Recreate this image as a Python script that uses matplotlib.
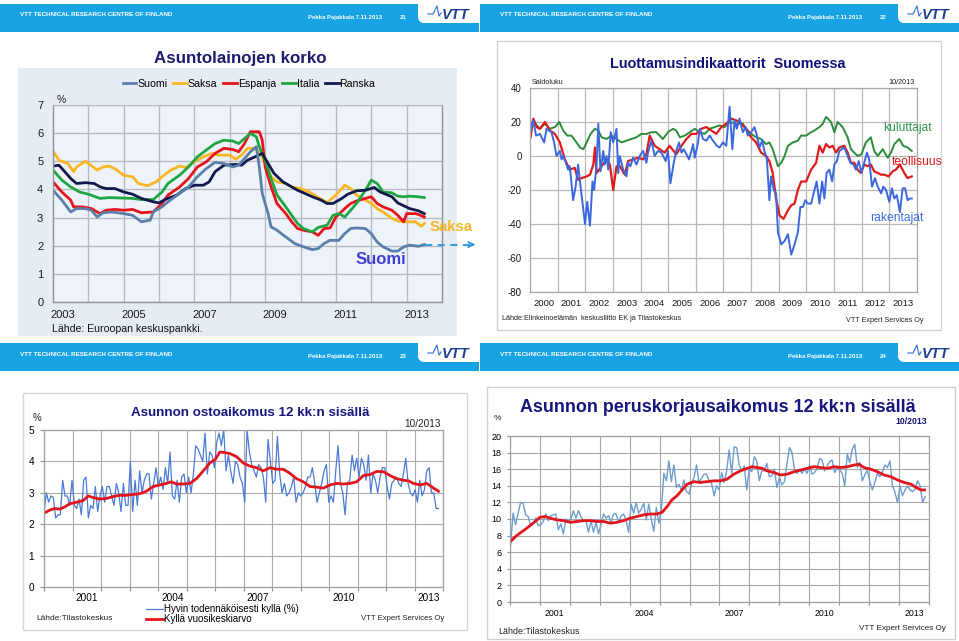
import numpy as np
import matplotlib
matplotlib.use('Agg')
import matplotlib.pyplot as plt
from matplotlib.patches import Rectangle, Polygon
from matplotlib.lines import Line2D

plt.rcParams['font.family'] = ['Liberation Sans', 'DejaVu Sans']
plt.rcParams['axes.unicode_minus'] = False

# ---------------- Panel 1: Asuntolainojen korko (months since Jan 2003) ----------------
p1_series = ['Suomi', 'Saksa', 'Espanja', 'Italia', 'Ranska']
fi_m = [0,3,6,8,11,13,15,17,20,24,27,30,33,34,37,39,43,46,49,52,55,58,61,63,65,67,69,70,71,73,
        74,76,79,82,85,88,90,92,94,97,99,101,103,106,108,110,112,115,117,119,121,124,126]
fi_v = [3.97,3.62,3.2,3.32,3.32,3.26,3.02,3.17,3.2,3.14,3.08,2.85,2.91,3.2,3.38,3.56,3.86,4.09,4.45,4.74,
        4.96,4.92,4.8,4.86,5.1,5.34,5.52,4.8,3.86,3.14,2.67,2.55,2.31,2.08,1.96,1.86,1.9,2.08,2.19,2.19,
        2.43,2.61,2.63,2.61,2.43,2.13,1.96,1.81,1.81,1.96,2.02,1.98,2.04]
de_m = [0,2,5,7,8,11,15,17,19,21,24,27,29,32,35,37,40,43,45,48,51,54,56,60,62,64,66,68,70,72,
        74,76,79,81,84,87,90,93,96,99,101,103,106,108,110,112,115,117,119,121,123,125,126]
de_v = [5.36,5.04,4.92,4.63,4.8,5.0,4.69,4.8,4.83,4.74,4.5,4.45,4.21,4.13,4.27,4.45,4.69,4.83,4.78,4.98,
        5.16,5.28,5.22,5.22,5.07,5.22,5.46,5.46,5.34,4.92,4.45,4.27,4.21,4.09,4.03,3.91,3.71,3.53,3.8,4.15,
        4.03,3.8,3.62,3.5,3.32,3.2,2.97,2.88,2.85,2.85,2.85,2.69,2.79]
es_m = [0,3,6,7,10,13,16,18,21,24,27,30,34,37,39,43,46,49,52,55,58,61,63,65,67,70,71,72,74,76,
        79,81,83,85,88,90,92,94,96,99,101,103,106,108,110,112,115,117,119,120,123,124,126]
es_v = [4.27,3.91,3.62,3.38,3.38,3.32,3.14,3.26,3.29,3.26,3.29,3.17,3.2,3.5,3.8,4.09,4.39,4.8,4.98,5.28,
        5.46,5.42,5.34,5.63,6.05,6.05,5.75,4.8,4.09,3.5,3.14,2.85,2.61,2.55,2.49,2.37,2.61,2.63,3.02,3.32,
        3.5,3.59,3.68,3.74,3.5,3.38,3.26,3.08,2.85,3.14,3.14,3.11,3.02]
it_m = [0,3,6,9,12,16,19,22,27,30,34,37,39,43,46,49,52,55,58,61,63,65,67,69,70,72,74,76,79,81,
        83,85,88,90,93,95,97,99,101,103,106,108,110,112,115,117,119,121,124,126]
it_v = [4.69,4.33,4.09,3.91,3.83,3.68,3.71,3.7,3.68,3.64,3.64,3.91,4.21,4.51,4.8,5.16,5.4,5.63,5.75,5.72,
        5.63,5.81,5.99,5.87,5.52,5.04,4.39,3.8,3.38,3.08,2.79,2.61,2.49,2.65,2.73,3.08,3.14,3.02,3.26,3.5,
        3.97,4.33,4.21,3.91,3.88,3.76,3.74,3.76,3.74,3.71]
fr_m = [0,2,4,6,8,11,14,16,18,21,24,27,30,34,36,38,42,45,48,51,53,55,58,62,64,66,69,71,73,75,
        78,80,83,85,88,91,93,95,98,100,103,106,109,111,115,117,119,121,124,126]
fr_v = [4.83,4.86,4.63,4.39,4.21,4.24,4.21,4.09,4.03,4.03,3.91,3.83,3.68,3.56,3.52,3.64,3.8,4.03,4.15,4.15,
        4.27,4.63,4.86,4.89,4.86,5.04,5.18,5.28,4.92,4.57,4.27,4.15,3.97,3.88,3.74,3.62,3.5,3.5,3.68,3.83,
        3.95,3.97,4.07,3.91,3.74,3.52,3.42,3.32,3.24,3.14]
p1_years = [2003, 2005, 2007, 2009, 2011, 2013]

# ---------------- Panel 2: Luottamusindikaattorit Suomessa ----------------
kul_x = [2000.02,2000.12,2000.24,2000.36,2000.54,2000.72,2000.90,2001.06,2001.20,2001.35,
         2001.50,2001.68,2001.81,2001.93,2002.05,2002.19,2002.35,2002.47,2002.59,2002.77,
         2002.95,2003.13,2003.31,2003.49,2003.67,2003.85,2004.03,2004.21,2004.39,2004.57,
         2004.69,2004.81,2004.99,2005.17,2005.29,2005.42,2005.60,2005.78,2005.96,2006.14,
         2006.32,2006.50,2006.68,2006.86,2007.04,2007.22,2007.46,2007.70,2007.82,2008.00,
         2008.18,2008.36,2008.54,2008.66,2008.78,2008.97,2009.09,2009.21,2009.33,2009.51,
         2009.69,2009.81,2009.99,2010.17,2010.29,2010.47,2010.59,2010.71,2010.89,2011.01,
         2011.13,2011.31,2011.49,2011.61,2011.73,2011.85,2011.99,2012.15,2012.33,2012.45,
         2012.58,2012.76,2012.94,2013.06,2013.18,2013.36,2013.50,2013.66,2013.81]
kul_v = [18,21,18,16,19,16,17,20,15,12, 12,8,5,4,8,13,16,15,11,10, 12,10,8,9,10,11,13,13,14,14,
         12,10,14,16,15,11,12,14,16,14, 13,16,17,18,17,20,19,19,16,13, 11,10,7,8,4,-6,-4,0,6,8,
         9,12,12,14,15,17,19,23,20,14, 20,17,11,4,2,0,1,8,11,3, 0,4,-1,2,7,10,6,5,3]
teo_x = [2000.02,2000.12,2000.24,2000.36,2000.54,2000.72,2000.90,2001.08,2001.26,2001.44,
         2001.62,2001.74,2001.87,2002.05,2002.17,2002.29,2002.35,2002.41,2002.59,2002.77,
         2002.89,2003.01,2003.13,2003.25,2003.43,2003.55,2003.73,2003.91,2004.09,2004.21,
         2004.33,2004.51,2004.69,2004.87,2005.05,2005.29,2005.48,2005.66,2005.84,2006.02,
         2006.20,2006.38,2006.56,2006.74,2006.92,2007.10,2007.28,2007.46,2007.64,2007.82,
         2008.00,2008.18,2008.36,2008.54,2008.66,2008.78,2008.90,2009.03,2009.17,2009.33,
         2009.45,2009.57,2009.69,2009.81,2009.99,2010.17,2010.35,2010.47,2010.59,2010.71,
         2010.83,2010.95,2011.07,2011.19,2011.37,2011.49,2011.61,2011.73,2011.85,2011.97,
         2012.09,2012.21,2012.33,2012.45,2012.58,2012.70,2012.82,2012.97,2013.12,2013.24,
         2013.38,2013.54,2013.66,2013.81]
teo_v = [11,22,17,16,20,15,13,8,-2,-8, -7,-14,-13,-12,-11,-5,5,-10,-6,-2, -5,-20,-6,-6,-11,-3,-2,-1,-2,1,
         12,6,4,2,6,1,6,10,13,13, 16,17,15,13,17,19,22,21,19,16, 11,8,2,0,-3,-10,-25,-35,-37,-32,
         -29,-28,-20,-15,-15,-8,-4,6,2,7, 5,6,2,5,6,2,-4,-4,-8,-10, -5,-6,-5,-9,-10,-11,-11,-12,-9,-8,
         -5,-10,-13,-12]
rak_x = [2000.02,2000.12,2000.22,2000.36,2000.51,2000.60,2000.78,2000.87,2000.96,2001.08,
         2001.14,2001.20,2001.30,2001.38,2001.44,2001.56,2001.65,2001.74,2001.83,2001.99,
         2002.07,2002.17,2002.26,2002.32,2002.41,2002.47,2002.55,2002.65,2002.71,2002.77,
         2002.83,2002.92,2003.01,2003.13,2003.19,2003.25,2003.37,2003.49,2003.55,2003.63,
         2003.73,2003.85,2003.97,2004.09,2004.21,2004.27,2004.39,2004.51,2004.63,2004.75,
         2004.91,2004.99,2005.08,2005.20,2005.29,2005.39,2005.48,2005.56,2005.66,2005.75,
         2005.84,2005.90,2005.96,2006.08,2006.14,2006.26,2006.38,2006.50,2006.62,2006.76,
         2006.86,2006.98,2007.10,2007.22,2007.32,2007.40,2007.48,2007.58,2007.70,2007.80,
         2007.88,2008.00,2008.12,2008.21,2008.30,2008.40,2008.48,2008.57,2008.66,2008.72,
         2008.82,2008.90,2008.97,2009.09,2009.21,2009.33,2009.45,2009.57,2009.69,2009.78,
         2009.87,2009.96,2010.05,2010.17,2010.26,2010.37,2010.47,2010.57,2010.65,2010.73,
         2010.83,2010.93,2011.01,2011.10,2011.19,2011.28,2011.37,2011.49,2011.59,2011.70,
         2011.79,2011.89,2011.99,2012.09,2012.19,2012.27,2012.37,2012.48,2012.58,2012.70,
         2012.78,2012.88,2013.00,2013.09,2013.18,2013.27,2013.38,2013.48,2013.57,2013.66,
         2013.74,2013.81]
rak_v = [15,21,12,13,8,16,14,8,0,3, -2,0,-4,-8,-6,-26,-18,-5,-18,-40, -27,-41,-15,-20,-5,19,-9,3,-5,0,
         -8,14,8,16,-10,0,-8,-12,-4,-6, -1,-5,0,3,-4,2,9,0,3,2, -3,3,-16,-4,3,8,2,4,1,-2,
         3,7,-1,8,16,10,9,12,9,6, 5,8,6,29,4,21,16,22,14,17, 12,14,17,12,5,9,3,-2,-26,-12,
         -20,-22,-45,-52,-50,-46,-58,-52,-45,-30, -30,-26,-28,-28,-22,-15,-28,-15,-25,-10,
         -8,-15,-5,-3,3,4,5,0,-4,-5, -8,-3,-10,-4,2,-2,-18,-13,-18,-22, -18,-20,-27,-19,-25,-23,-33,-19,-19,-26,
         -25,-25]
p2_years = list(range(2000, 2014))

# ---------------- Panel 3: Asunnon ostoaikomus 12 kk:n sisällä ----------------
osto_month = [2.35,3.0,2.7,2.9,2.85,2.2,2.3,2.3,3.4,2.9,2.9,2.6,3.4,2.6,2.5,2.8,2.3,3.4,3.5,2.2,
              2.6,2.5,3.2,2.4,2.9,3.2,2.7,3.2,3.2,2.9,2.6,3.3,3.0,2.4,3.3,2.6,2.6,4.0,2.4,3.4,
              2.6,3.7,3.0,3.4,3.6,3.6,2.8,3.3,3.8,3.2,3.5,3.1,3.8,3.3,4.3,2.9,2.8,3.4,2.7,3.5,
              3.6,3.0,3.5,3.0,3.6,4.5,4.4,4.2,4.0,4.9,3.6,4.3,4.2,3.8,4.6,4.9,4.5,5.0,3.7,4.2,
              3.7,3.3,4.0,3.9,3.5,3.3,2.7,5.0,4.3,3.9,3.7,3.5,3.9,3.8,3.5,2.7,4.7,4.0,3.3,3.4,
              4.8,3.6,3.0,3.3,2.9,3.0,3.2,3.5,2.7,3.0,2.9,3.0,3.2,3.5,3.5,3.8,3.3,2.7,3.0,3.3,
              3.7,3.9,2.7,2.9,2.7,3.7,4.5,3.3,3.0,2.3,3.3,3.4,4.2,3.7,4.1,3.5,4.1,3.9,3.4,4.2,
              3.0,3.6,3.4,3.0,3.5,3.8,3.8,3.2,2.8,3.3,3.4,3.5,3.3,3.2,3.6,4.1,3.3,3.0,2.9,3.1,
              2.7,3.4,2.9,3.1,3.7,3.8,3.0,3.0,2.5,2.5]
osto_avg_x = [2000.00,2000.20,2000.37,2000.55,2000.73,2000.90,2001.14,2001.37,2001.55,2001.72,
              2001.96,2002.19,2002.42,2002.66,2002.89,2003.13,2003.36,2003.59,2003.83,2004.06,
              2004.30,2004.47,2004.65,2004.88,2005.12,2005.35,2005.59,2005.82,2006.00,2006.17,
              2006.35,2006.52,2006.76,2006.99,2007.22,2007.46,2007.69,2007.93,2008.16,2008.40,
              2008.63,2008.86,2009.10,2009.33,2009.57,2009.80,2010.04,2010.27,2010.50,2010.74,
              2010.97,2011.21,2011.44,2011.67,2011.91,2012.14,2012.38,2012.61,2012.79,2012.96,
              2013.20,2013.43,2013.67,2013.84]
osto_avg = [2.35,2.45,2.5,2.48,2.55,2.65,2.7,2.75,2.9,2.85, 2.8,2.82,2.88,2.92,2.92,2.95,2.97,3.05,3.2,3.25,
            3.3,3.35,3.28,3.28,3.3,3.45,3.7,3.95,4.05,4.3, 4.28,4.25,4.15,3.95,3.85,3.8,3.7,3.8,3.75,3.75,
            3.62,3.45,3.35,3.2,3.18,3.15,3.25,3.3,3.28,3.3, 3.35,3.55,3.58,3.68,3.67,3.55,3.45,3.4,3.38,3.3,
            3.25,3.3,3.15,3.05]
p3_years = [2001, 2004, 2007, 2010, 2013]

# ---------------- Panel 4: Asunnon peruskorjausaikomus 12 kk:n sisällä ----------------
kor_month = [6.9,10.7,9.3,10.7,12.0,11.9,10.5,10.3,9.2,9.5,10.1,9.2,9.3,9.7,10.6,9.8,10.4,10.5,10.6,8.7,
             9.4,8.2,10.0,9.7,10.0,11.0,10.1,11.0,10.3,9.8,9.8,8.4,9.8,8.4,9.6,8.2,9.4,10.6,10.1,10.4,
             9.6,10.6,10.6,9.6,10.4,10.6,9.8,8.4,11.8,10.7,12.0,10.7,11.2,11.9,9.9,11.8,10.0,8.5,11.4,9.5,
             11.0,15.5,14.6,17.0,14.5,16.5,13.8,14.2,13.4,14.7,13.3,13.0,14.2,15.0,16.5,14.4,14.9,15.4,15.4,14.6,
             14.3,12.8,14.0,13.5,15.6,14.4,15.8,18.3,15.5,18.7,18.6,16.5,15.8,16.4,13.5,16.0,15.7,17.5,17.0,14.6,
             15.8,15.8,16.7,15.1,15.2,16.0,13.8,15.0,14.1,14.5,16.6,18.6,18.0,16.0,15.5,16.0,15.5,16.0,15.5,16.5,
             15.4,15.6,16.1,17.3,17.1,15.8,16.4,16.9,17.1,15.6,16.2,15.9,15.5,14.0,17.8,16.8,18.4,19.0,16.2,16.8,
             14.6,15.3,15.9,14.5,13.5,14.4,15.5,15.1,15.7,16.5,16.2,17.0,14.0,13.2,12.0,14.0,12.8,13.5,14.0,13.5,
             13.3,13.6,14.6,14.0,12.0,12.7]
kor_avg_x = [2000.02,2000.22,2000.45,2000.67,2000.84,2001.00,2001.17,2001.34,2001.56,2001.79,
             2002.01,2002.23,2002.46,2002.68,2002.90,2003.13,2003.35,2003.57,2003.79,2004.02,
             2004.24,2004.46,2004.69,2004.91,2005.08,2005.25,2005.41,2005.58,2005.75,2005.92,
             2006.14,2006.36,2006.58,2006.81,2007.03,2007.25,2007.48,2007.70,2007.92,2008.09,
             2008.26,2008.43,2008.59,2008.82,2009.04,2009.26,2009.49,2009.71,2009.93,2010.16,
             2010.38,2010.60,2010.83,2011.05,2011.27,2011.50,2011.66,2011.83,2012.05,2012.28,
             2012.50,2012.72,2012.95,2013.17,2013.39,2013.62,2013.73,2013.85]
kor_avg = [7.3,8.0,8.6,9.2,9.7,10.2,10.3,10.1,9.9,9.8, 9.6,9.7,9.8,9.8,9.7,9.7,9.5,9.6,9.8,10.1,
           10.3,10.5,10.6,10.6,10.8,11.5,12.3,12.8,13.5,14.2, 14.5,14.4,14.5,14.6,14.6,14.8,15.4,15.8,16.1,16.3,
           16.2,16.1,15.8,15.6,15.3,15.4,15.7,15.9,16.1,16.3, 16.2,16.1,16.3,16.2,16.3,16.5,16.6,16.2,16.0,15.7,
           15.3,15.1,14.7,14.4,14.2,13.7,13.5,13.5]
p4_years = [2001, 2004, 2007, 2010, 2013]

# ====================================================================================
W, H = 959, 641
fig = plt.figure(figsize=(W / 100, H / 100), dpi=100)
fig.patch.set_facecolor('white')


def rect(x0, y0, x1, y1):
    return [x0 / W, 1 - y1 / H, (x1 - x0) / W, (y1 - y0) / H]


bg = fig.add_axes([0, 0, 1, 1])
bg.set_xlim(0, W)
bg.set_ylim(H, 0)
bg.axis('off')

HBLUE = '#18a4e4'


def header(ox, oy, page):
    bg.add_patch(Rectangle((ox, oy + 4), 479, 28, facecolor=HBLUE, edgecolor='none'))
    r = 6
    cx, cy = ox + 418 + r, oy + 23 - r
    t = np.linspace(0, np.pi / 2, 10)
    arc = np.column_stack([cx - r * np.cos(t), cy + r * np.sin(t)])
    pts = np.vstack([[ox + 418, oy + 3], arc, [ox + 479, oy + 23], [ox + 479, oy + 3]])
    bg.add_patch(Polygon(pts, closed=True, facecolor='white', edgecolor='none'))
    bg.plot([ox + 428, ox + 433, ox + 435, ox + 437, ox + 439, ox + 441],
            [oy + 14, oy + 14, oy + 10, oy + 6, oy + 16, oy + 13], color='#3b7fd6', lw=0.9)
    bg.text(ox + 456, oy + 15, 'VTT', fontsize=10.5, fontweight='bold', fontstyle='italic',
            color='#1c3f92', ha='center', va='center')
    bg.text(ox + 20, oy + 15, 'VTT TECHNICAL RESEARCH CENTRE OF FINLAND', fontsize=4.5,
            fontweight='bold', color='white', ha='left', va='center')
    bg.text(ox + 308, oy + 17.5, 'Pekka Pajakkala 7.11.2013', fontsize=4.3, fontweight='bold',
            color='white', ha='left', va='center')
    bg.text(ox + 403, oy + 17.5, page, fontsize=4.3, fontweight='bold', color='white',
            ha='center', va='center')


header(0, 0, '21')
header(480, 0, '22')
header(0, 339, '23')
header(480, 339, '24')

# panel frames / backgrounds
bg.add_patch(Rectangle((18, 68), 439, 268, facecolor='#e5ecf4', edgecolor='none'))
bg.add_patch(Rectangle((497, 41), 444, 289, facecolor='white', edgecolor='#d2d2d2', lw=1))
bg.add_patch(Rectangle((23, 393), 444, 237, facecolor='white', edgecolor='#d6d6d6', lw=1))
bg.add_patch(Rectangle((487, 387), 468, 252, facecolor='white', edgecolor='#d0d0d0', lw=1))

# ---------------------------------- Panel 1 ----------------------------------
bg.text(240, 58, 'Asuntolainojen korko', fontsize=12.2, fontweight='bold', color='#1d1d6e',
        ha='center', va='center')
ax1 = fig.add_axes(rect(53, 105, 442, 302))
ax1.set_facecolor('#eef3f9')
c1 = {'Suomi': '#5b7fa8', 'Saksa': '#f6b822', 'Espanja': '#e5141b', 'Italia': '#1fa643', 'Ranska': '#111a4c'}
data1 = {'Suomi': (fi_m, fi_v), 'Saksa': (de_m, de_v), 'Espanja': (es_m, es_v),
         'Italia': (it_m, it_v), 'Ranska': (fr_m, fr_v)}
for name in ['Saksa', 'Espanja', 'Italia', 'Ranska', 'Suomi']:
    m, v = data1[name]
    ax1.plot(2003 + np.array(m) / 12.0, v, color=c1[name], lw=2.0, solid_joinstyle='round')
ax1.set_xlim(2003, 2014)
ax1.set_ylim(0, 7)
ax1.set_yticks(range(0, 8))
ax1.set_xticks([y + 0.28 for y in p1_years])
ax1.set_xticklabels([str(y) for y in p1_years])
ax1.set_xticks(range(2004, 2014), minor=True)
ax1.tick_params(axis='both', which='both', length=0, labelsize=8, colors='#1a1a1a')
ax1.tick_params(axis='y', pad=7)
ax1.tick_params(axis='x', pad=6)
ax1.grid(which='minor', axis='x', color='#b6bbc2', lw=1.0)
ax1.grid(which='major', axis='y', color='#b6bbc2', lw=1.0)
ax1.set_axisbelow(True)
for s in ['left', 'bottom', 'right']:
    ax1.spines[s].set_color('#8e939a')
    ax1.spines[s].set_linewidth(1.0)
ax1.spines['top'].set_color('#b6bbc2')
handles = [Line2D([0], [0], color=c1[n], lw=2.0) for n in p1_series]
ax1.legend(handles, p1_series, loc='center', bbox_to_anchor=(249 / W, 1 - 84 / H),
           bbox_transform=fig.transFigure, ncol=5, frameon=False, fontsize=7.6,
           handlelength=1.3, handletextpad=0.1, columnspacing=0.55)
bg.text(61, 100, '%', fontsize=7.5, ha='center', va='center', color='#222222')
bg.text(52, 329, 'Lähde: Euroopan keskuspankki.', fontsize=7.6, ha='left', va='center', color='#111111')

# ---------------------------------- Panel 2 ----------------------------------
bg.text(728, 64, 'Luottamusindikaattorit  Suomessa', fontsize=10.4, fontweight='bold',
        color='#10107e', ha='center', va='center')
bg.text(532, 82, 'Saldoluku', fontsize=5.2, ha='left', va='center', color='#222222')
bg.text(915, 82, '10/2013', fontsize=5.2, ha='right', va='center', color='#222222')
ax2 = fig.add_axes(rect(530, 88, 917, 292))
ax2.plot(kul_x, kul_v, color='#2c8c3c', lw=1.4)
ax2.plot(teo_x, teo_v, color='#e01a1a', lw=1.6)
ax2.plot(rak_x, rak_v, color='#3b68e0', lw=1.4)
ax2.set_xlim(2000, 2014)
ax2.set_ylim(-80, 40)
ax2.set_yticks(range(-80, 41, 20))
ax2.set_xticks([y + 0.5 for y in p2_years])
ax2.set_xticklabels([str(y) for y in p2_years])
ax2.set_xticks(range(2001, 2014), minor=True)
ax2.tick_params(axis='both', which='both', length=0, colors='#1a1a1a')
ax2.tick_params(axis='y', labelsize=7, pad=6)
ax2.tick_params(axis='x', labelsize=6.8, pad=5)
ax2.grid(which='minor', axis='x', color='#b8b8b8', lw=0.9)
ax2.grid(which='major', axis='y', color='#b8b8b8', lw=0.9)
ax2.set_axisbelow(True)
for s in ax2.spines.values():
    s.set_color('#a8a8a8')
    s.set_linewidth(0.9)
bg.text(502, 319, 'Lähde:Elinkeinoelämän  keskusliitto EK ja Tilastokeskus', fontsize=5.2,
        ha='left', va='center', color='#222222')
bg.text(923, 321, 'VTT Expert Services Oy', fontsize=5.2, ha='right', va='center', color='#222222')

# ---------------------------------- Panel 3 ----------------------------------
bg.text(250, 413, 'Asunnon ostoaikomus 12 kk:n sisällä', fontsize=9.6, fontweight='bold',
        color='#16167e', ha='center', va='center')
bg.text(37, 418, '%', fontsize=7, ha='center', va='center', color='#222222')
bg.text(441, 424, '10/2013', fontsize=7.2, ha='right', va='center', color='#222222')
ax3 = fig.add_axes(rect(44, 430, 443, 587))
x3 = np.linspace(2000.0, 2013.84, len(osto_month))
l3a, = ax3.plot(x3, osto_month, color='#4a7bd8', lw=0.9)
l3b, = ax3.plot(osto_avg_x, osto_avg, color='#e2141c', lw=2.0)
ax3.set_xlim(2000, 2014)
ax3.set_ylim(0, 5)
ax3.set_yticks(range(0, 6))
ax3.set_xticks(range(2000, 2015))
ax3.set_xticklabels([])
ax3.set_xticks([y + 0.5 for y in p3_years], minor=True)
ax3.set_xticklabels([str(y) for y in p3_years], minor=True)
ax3.tick_params(axis='x', which='major', length=3, color='#909090')
ax3.tick_params(axis='x', which='minor', length=0, labelsize=7.2, pad=4)
ax3.tick_params(axis='y', length=3, color='#909090', labelsize=7.2, pad=4)
ax3.grid(which='major', color='#ababab', lw=0.8)
ax3.set_axisbelow(True)
for s in ax3.spines.values():
    s.set_color('#a0a0a0')
    s.set_linewidth(0.9)
ax3.legend([l3a, l3b], ['Hyvin todennäköisesti kyllä (%)', 'Kyllä vuosikeskiarvo'],
           loc='upper left', bbox_to_anchor=(146 / W, 1 - 604 / H), bbox_transform=fig.transFigure,
           frameon=False, fontsize=7.0, handlelength=1.7, handletextpad=0.2, labelspacing=0.02,
           borderpad=0, borderaxespad=0)
bg.text(36, 619, 'Lähde:Tilastokeskus', fontsize=6, ha='left', va='center', color='#222222')
bg.text(444, 619, 'VTT Expert Services Oy', fontsize=5.6, ha='right', va='center', color='#222222')

# ---------------------------------- Panel 4 ----------------------------------
bg.text(718, 408, 'Asunnon peruskorjausaikomus 12 kk:n sisällä', fontsize=12.9, fontweight='bold',
        color='#16167e', ha='center', va='center')
bg.text(497, 419, '%', fontsize=6, ha='center', va='center', color='#222222')
bg.text(927, 422, '10/2013', fontsize=6.3, fontweight='bold', ha='right', va='center', color='#16167e')
ax4 = fig.add_axes(rect(510, 436, 929, 602))
x4 = np.linspace(2000.02, 2013.87, len(kor_month))
ax4.plot(x4, kor_month, color='#6d9dd0', lw=1.0)
ax4.plot(kor_avg_x, kor_avg, color='#e2141c', lw=2.0)
ax4.set_xlim(2000, 2014)
ax4.set_ylim(0, 20)
ax4.set_yticks(range(0, 21, 2))
ax4.set_xticks(range(2000, 2015))
ax4.set_xticklabels([])
ax4.set_xticks([y + 0.5 for y in p4_years], minor=True)
ax4.set_xticklabels([str(y) for y in p4_years], minor=True)
ax4.tick_params(axis='x', which='major', length=2, color='#909090')
ax4.tick_params(axis='x', which='minor', length=0, labelsize=6.3, pad=5)
ax4.tick_params(axis='y', length=2, color='#909090', labelsize=6.5, pad=4)
ax4.grid(which='major', color='#a6a6a6', lw=0.8)
ax4.set_axisbelow(True)
for s in ax4.spines.values():
    s.set_color('#a0a0a0')
    s.set_linewidth(0.9)
bg.text(498, 631, 'Lähde:Tilastokeskus', fontsize=6.4, ha='left', va='center', color='#222222')
bg.text(946, 629, 'VTT Expert Services Oy', fontsize=5.9, ha='right', va='center', color='#222222')

# ---------------------------------- overlay annotations ----------------------------------
fg = fig.add_axes([0, 0, 1, 1])
fg.set_xlim(0, W)
fg.set_ylim(H, 0)
fg.axis('off')
fg.patch.set_alpha(0)
fg.text(451, 227, 'Saksa', fontsize=10.7, fontweight='bold', color='#f6b822', ha='center', va='center')
fg.text(381, 260, 'Suomi', fontsize=12, fontweight='bold', color='#3f3fd4', ha='center', va='center')
fg.text(907, 128, 'kuluttajat', fontsize=8.7, color='#2f9a4c', ha='center', va='center')
fg.text(917, 162, 'teollisuus', fontsize=8.7, color='#e01a1a', ha='center', va='center')
fg.text(897, 218, 'rakentajat', fontsize=8.7, color='#3b6ee0', ha='center', va='center')
# dashed arrow continuing the last Suomi value
end_pt = ax1.transData.transform((2003 + fi_m[-1] / 12.0, fi_v[-1]))
ex, ey = end_pt[0], H - end_pt[1]
fg.plot([ex + 1, 472], [ey, ey], color='#2a96e0', lw=1.3, ls=(0, (4, 3)))
fg.annotate('', xy=(478, ey), xytext=(469, ey),
            arrowprops=dict(arrowstyle='->', color='#2a96e0', lw=1.3, mutation_scale=9))

fig.savefig('out.png', dpi=100, facecolor='white')
